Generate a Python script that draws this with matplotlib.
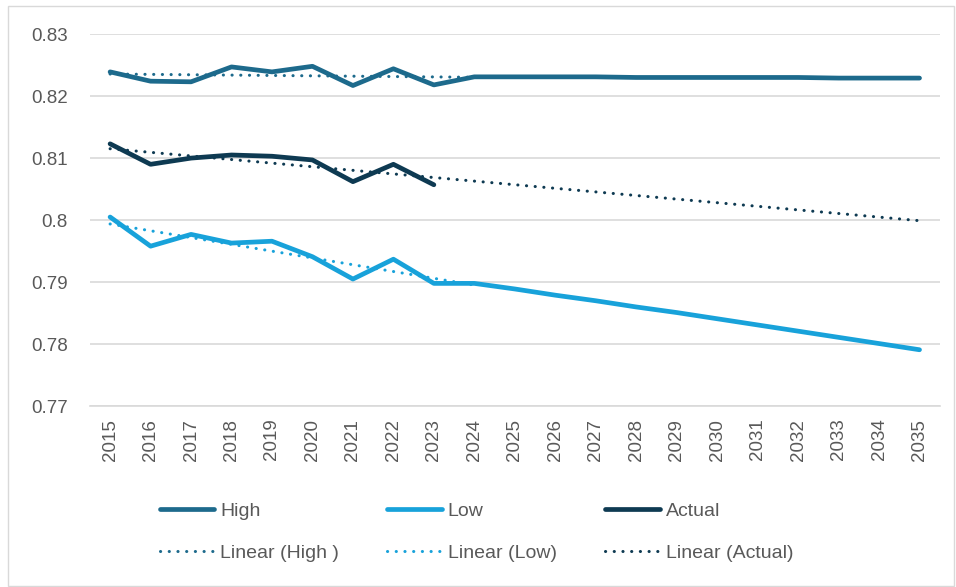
import numpy as np
import matplotlib.pyplot as plt
from matplotlib.patches import Rectangle

plt.rcParams['font.family'] = ['Liberation Sans', 'DejaVu Sans']

years = list(range(2015, 2036))
high = [0.8239, 0.8224, 0.8223, 0.8247, 0.8239, 0.8248, 0.8217, 0.8244, 0.8218,
        0.8231, 0.8231, 0.8231, 0.8231, 0.8230, 0.8230, 0.8230, 0.8230, 0.8230,
        0.8229, 0.8229, 0.8229]
low = [0.8005, 0.7958, 0.7977, 0.7963, 0.7966, 0.7941, 0.7905, 0.7937, 0.7898,
       0.7898, 0.7889, 0.7879, 0.7870, 0.7860, 0.7851, 0.7841, 0.7831, 0.7821,
       0.7811, 0.7801, 0.7791]
actual_years = list(range(2015, 2024))
actual = [0.8123, 0.8090, 0.8100, 0.8105, 0.8103, 0.8097, 0.8062, 0.8090, 0.8057]

c_high = '#1D6A8C'
c_low = '#18A2DA'
c_act = '#0E3A52'

fig = plt.figure(figsize=(9.56, 5.87), dpi=100)
ax = fig.add_axes([0.094, 0.308, 0.889, 0.634])

h1, = ax.plot(years, high, color=c_high, lw=3.4, solid_capstyle='round', label='High')
h2, = ax.plot(years, low, color=c_low, lw=3.4, solid_capstyle='round', label='Low')
h3, = ax.plot(actual_years, actual, color=c_act, lw=3.4, solid_capstyle='round', label='Actual')

# linear trendlines
dots = dict(lw=2.2, ls=(0, (0.05, 2.8)), dash_capstyle='round')
fit_x = np.array(actual_years)
ext = np.arange(2015, 2025)
ph = np.polyfit(fit_x, high[:9], 1)
t1, = ax.plot(ext, np.polyval(ph, ext), color=c_high, label='Linear (High )', **dots)
pl = np.polyfit(fit_x, low[:9], 1)
t2, = ax.plot(ext, np.polyval(pl, ext), color=c_low, label='Linear (Low)', **dots)
pa = np.polyfit(fit_x, actual, 1)
t3, = ax.plot(np.array(years), np.polyval(pa, np.array(years)), color=c_act,
              label='Linear (Actual)', **dots)

ax.set_xlim(2014.5, 2035.5)
ax.set_ylim(0.77, 0.83)
ax.set_yticks([0.77, 0.78, 0.79, 0.80, 0.81, 0.82, 0.83])
ax.set_yticklabels(['0.77', '0.78', '0.79', '0.8', '0.81', '0.82', '0.83'])
ax.set_xticks(years)
ax.set_xticklabels([str(y) for y in years], rotation=90)
ax.tick_params(axis='both', length=0, labelsize=13.5, colors='#595959')
ax.tick_params(axis='y', pad=16)
ax.tick_params(axis='x', pad=9)
ax.grid(axis='y', color='#D9D9D9', lw=1.2)
ax.set_axisbelow(True)
for s in ['top', 'right', 'left']:
    ax.spines[s].set_visible(False)
ax.spines['bottom'].set_color('#D9D9D9')
ax.spines['bottom'].set_linewidth(1.2)

# column-major order so rows read High/Low/Actual, then trendlines
handles = [h1, t1, h2, t2, h3, t3]
labels = [h.get_label() for h in handles]
leg = fig.legend(handles, labels, ncol=3, loc='upper left', bbox_to_anchor=(0.167, 0.144),
                 frameon=False, handlelength=2.8, columnspacing=2.5,
                 labelspacing=1.25, handletextpad=0.3, borderpad=0, borderaxespad=0,
                 prop={'size': 14})
for t in leg.get_texts():
    t.set_color('#595959')

fig.patches.append(Rectangle((0.008, 0.002), 0.99, 0.987, transform=fig.transFigure,
                             fill=False, edgecolor='#D9D9D9', lw=1))

fig.savefig('out.png', dpi=100)
